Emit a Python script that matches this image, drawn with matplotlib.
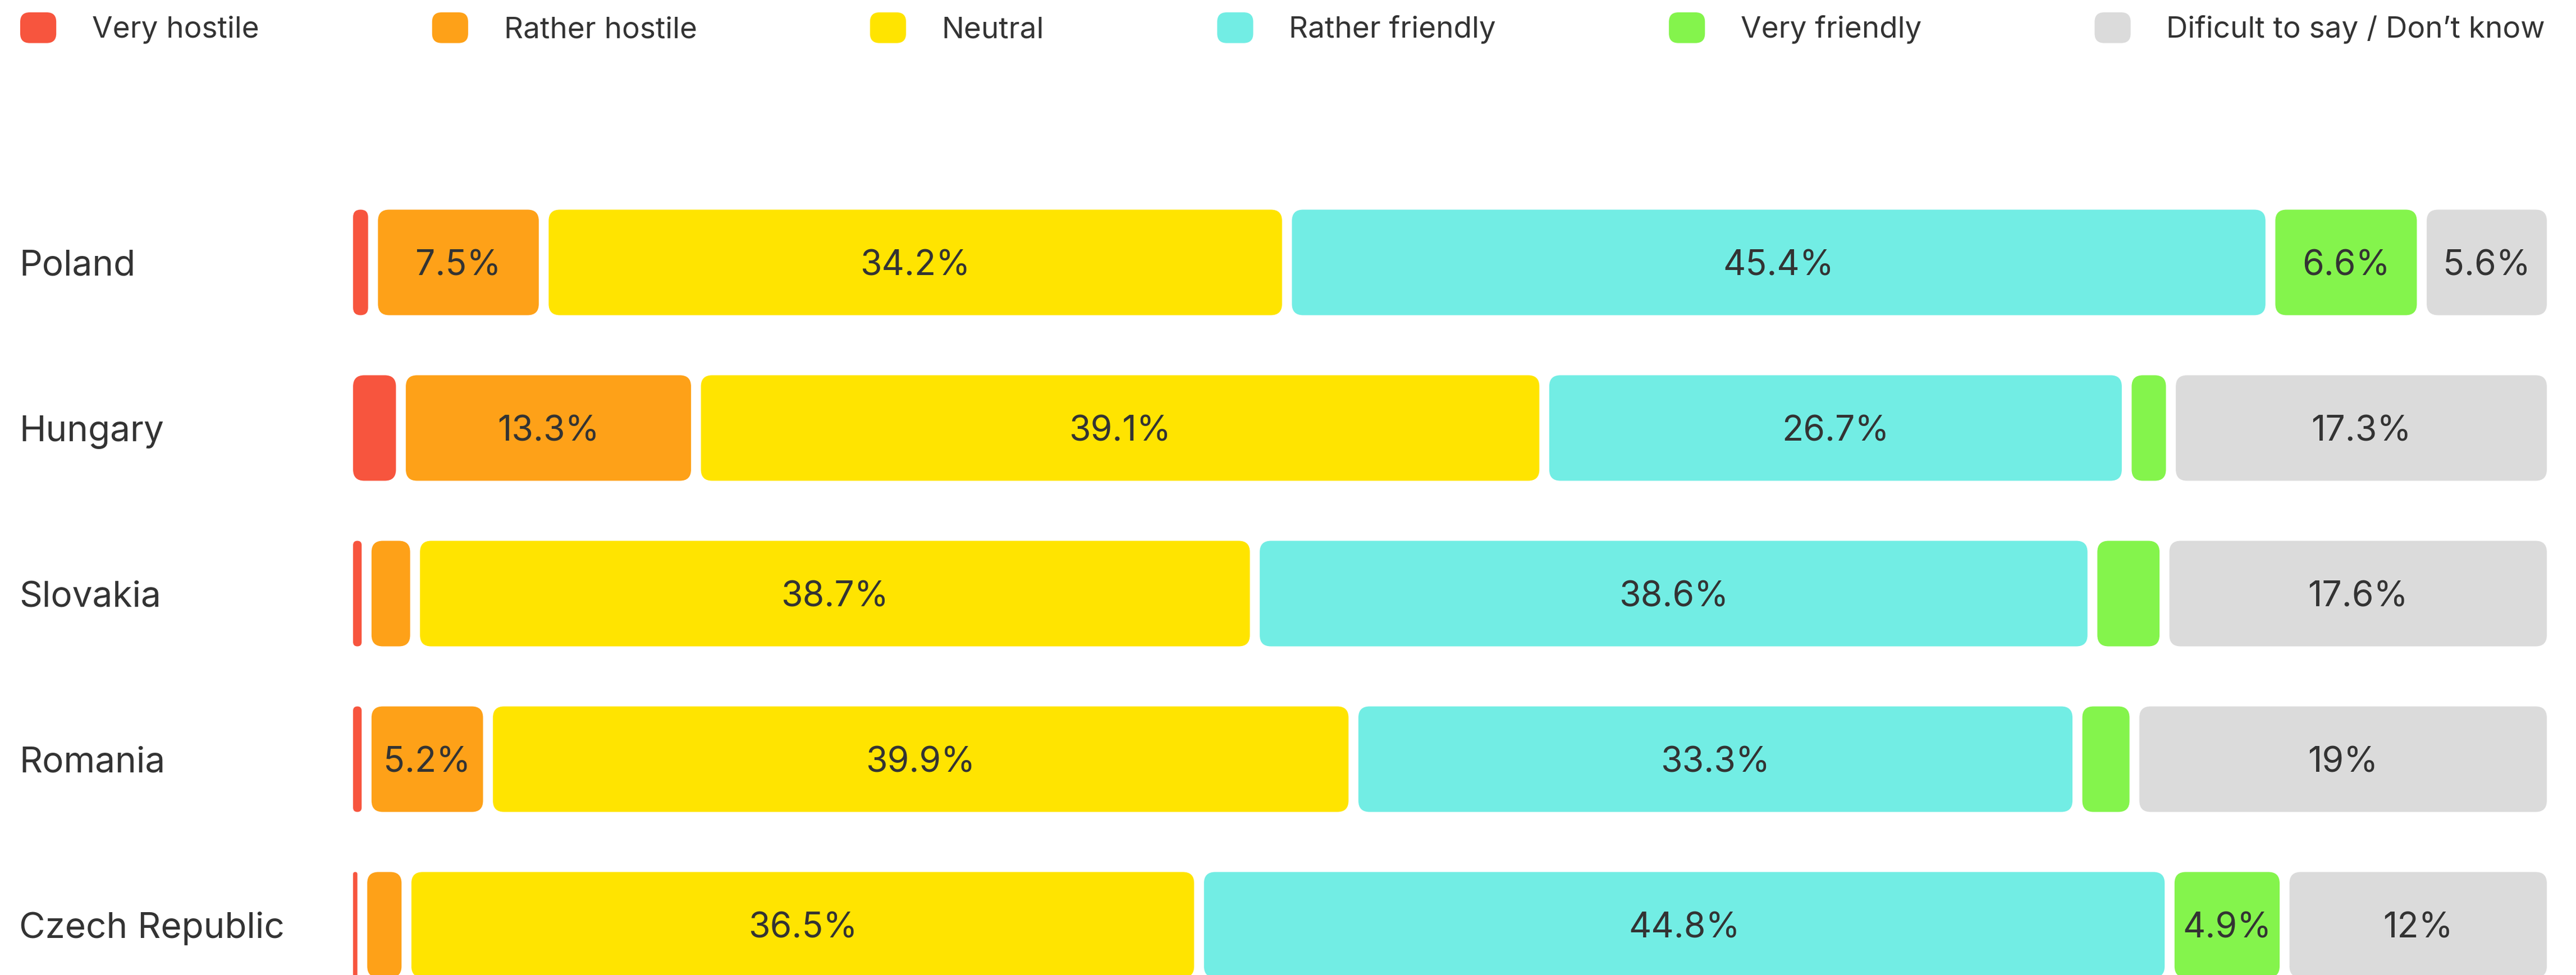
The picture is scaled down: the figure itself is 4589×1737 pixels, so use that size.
import matplotlib
matplotlib.use("Agg")
import matplotlib.pyplot as plt
from matplotlib.patches import FancyBboxPatch, Patch
from matplotlib.legend_handler import HandlerPatch
from matplotlib.transforms import blended_transform_factory

# data
countries = ["Poland", "Hungary", "Slovakia", "Romania", "Czech Republic"]
categories = ["Very hostile", "Rather hostile", "Neutral", "Rather friendly",
              "Very friendly", "Dificult to say / Don’t know"]
very_hostile = [0.7, 2.0, 0.4, 0.4, 0.2]
rather_hostile = [7.5, 13.3, 1.8, 5.2, 1.6]
neutral = [34.2, 39.1, 38.7, 39.9, 36.5]
rather_friendly = [45.4, 26.7, 38.6, 33.3, 44.8]
very_friendly = [6.6, 1.6, 2.9, 2.2, 4.9]
dont_know = [5.6, 17.3, 17.6, 19, 12]
colors = ["#F7553E", "#FEA118", "#FFE400", "#72EDE4", "#84F44C", "#DBDBDB"]

series = [very_hostile, rather_hostile, neutral, rather_friendly, very_friendly, dont_know]

TEXT = "#333333"
FS_LABEL = 46
FS_VALUE = 45
FS_LEGEND = 38.2
W, H = 4589, 1737
plt.rcParams['font.family'] = ['Inter', 'DejaVu Sans']

fig = plt.figure(figsize=(W / 100, H / 100), dpi=100)
ax = fig.add_axes([629 / W, 0, (4537 - 629) / W, 1])
ax.axis('off')

gap = 0.46          # gap between segments, in percent units
row_px = 295        # row pitch in pixels
first_row_px = 467.5
bar_h = 188 / row_px
ax.set_xlim(0, 100 + gap * (len(series) - 1))
ax.set_ylim((H - first_row_px) / row_px, -first_row_px / row_px)

# aspect for rounded corners so that they look round in pixels
px_x = ax.transData.transform((1, 0))[0] - ax.transData.transform((0, 0))[0]
px_y = abs(ax.transData.transform((0, 1))[1] - ax.transData.transform((0, 0))[1])
aspect = px_x / px_y
r = 20 / px_x

for i, country in enumerate(countries):
    left = 0
    for k, vals in enumerate(series):
        v = vals[i]
        rs = min(r, v / 2)
        box = FancyBboxPatch((left, i - bar_h / 2), v, bar_h,
                             boxstyle=f"round,pad=0,rounding_size={rs}",
                             mutation_aspect=aspect,
                             facecolor=colors[k], edgecolor='none')
        ax.add_patch(box)
        if v >= 4:
            ax.text(left + v / 2, i, f"{v:g}%", ha='center', va='center_baseline',
                    fontsize=FS_VALUE, color=TEXT)
        left += v + gap

    ax.text(34 / W, i, country, transform=blended_transform_factory(fig.transFigure, ax.transData),
            ha='left', va='center_baseline', fontsize=FS_LABEL, color=TEXT)


def rounded_handle(legend, orig_handle, xdescent, ydescent, width, height, fontsize):
    return FancyBboxPatch((-xdescent, -ydescent), width, height,
                          boxstyle=f"round,pad=0,rounding_size={height * 0.31}")


handles = [Patch(facecolor=c, edgecolor='none') for c in colors]
fig.legend(handles, categories, loc='upper left', bbox_to_anchor=(36 / W, 1 - 22 / H),
           ncol=6, frameon=False, fontsize=FS_LEGEND, labelcolor=TEXT,
           handlelength=1.21, handleheight=1.21, handletextpad=1.2,
           columnspacing=5.81, borderpad=0, borderaxespad=0,
           handler_map={Patch: HandlerPatch(patch_func=rounded_handle)})

fig.savefig("out.png", dpi=100, facecolor='white')
